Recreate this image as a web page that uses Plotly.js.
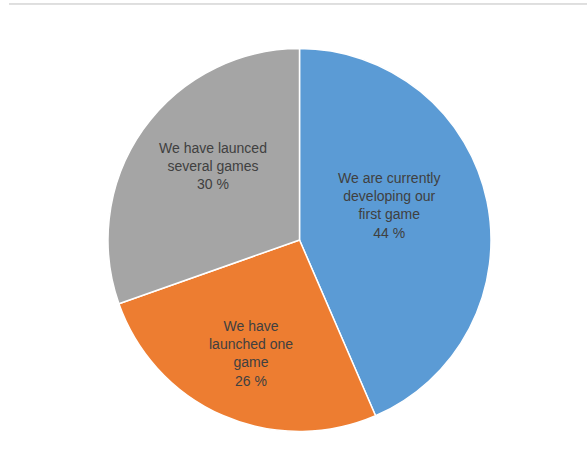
<!DOCTYPE html>
<html>
<head>
<meta charset="utf-8">
<script src="https://cdn.plot.ly/plotly-3.0.1.min.js"></script>
<style>html,body{margin:0;padding:0;background:#fff;}#chart{width:587px;height:472px;}</style>
</head>
<body>
<div id="chart"></div>
<script>
const categories = ["We are currently<br>developing our<br>first game", "We have<br>launched one<br>game", "We have launced<br>several games"];
const values = [43.5, 26.1, 30.4];
const colors = ["#5B9BD5", "#ED7D31", "#A5A5A5"];
// label anchor positions (paper coords) matching the reference's best-fit placement
const labelX = [0.7337, 0.3734, 0.2742];
const labelY = [0.5898, 0.2057, 0.6940];

const trace = {
  type: "pie",
  labels: categories,
  values: values,
  sort: false,
  direction: "clockwise",
  rotation: 0,
  marker: {colors: colors, line: {color: "#ffffff", width: 1.5}},
  textinfo: "none",
  hoverinfo: "none",
  showlegend: false
};

const total = values.reduce((a, b) => a + b, 0);
const annotations = categories.map((c, i) => ({
  xref: "paper", yref: "paper",
  x: labelX[i], y: labelY[i],
  xanchor: "center", yanchor: "middle",
  text: c + "<br>" + Math.round(values[i] / total * 100) + " %",
  showarrow: false,
  align: "center",
  font: {family: "Liberation Sans, Arial, sans-serif", size: 14, color: "#404040"}
}));

const layout = {
  width: 587, height: 472,
  margin: {l: 108, r: 96, t: 48, b: 40},
  paper_bgcolor: "#ffffff",
  showlegend: false,
  annotations: annotations,
  shapes: [{type: "line", xref: "paper", yref: "paper", x0: -0.2585, x1: 1.2507, y0: 1.1146, y1: 1.1146, line: {color: "#BFBFBF", width: 1}}]
};

Plotly.newPlot("chart", [trace], layout, {staticPlot: true, displayModeBar: false});
</script>
</body>
</html>
